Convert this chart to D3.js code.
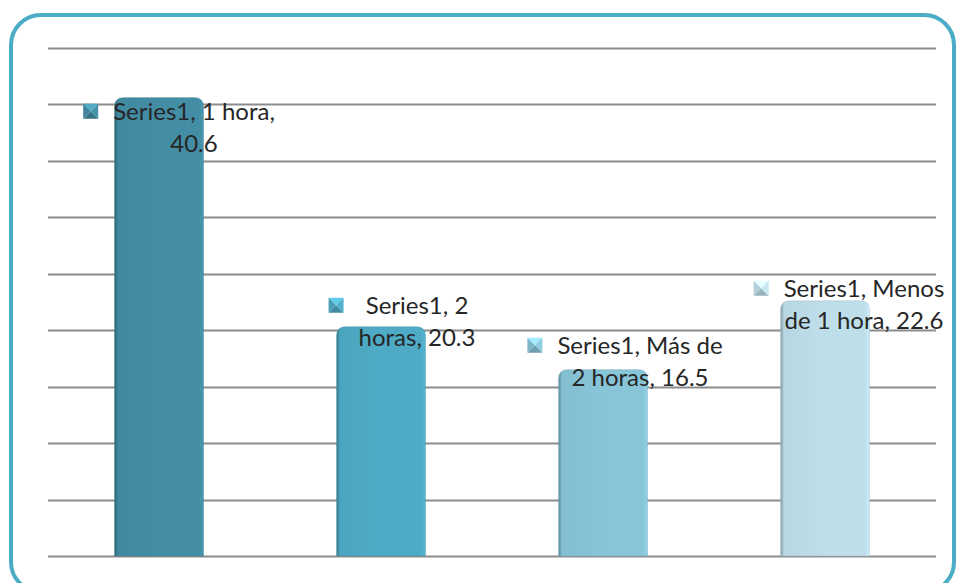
<!DOCTYPE html>
<html>
<head>
<meta charset="utf-8">
<script src="https://cdn.jsdelivr.net/npm/d3@7"></script>
<style>
  html, body { margin: 0; padding: 0; background: #fff; }
  svg { display: block; }
  .lbl { font-family: Lato, "Open Sans", sans-serif; font-size: 24px; fill: #262626; }
</style>
</head>
<body>
<svg id="chart" width="960" height="583"></svg>
<script>
// datos
const categorias = ["1 hora", "2 horas", "Más de 2 horas", "Menos de 1 hora"];
const valores = [40.6, 20.3, 16.5, 22.6];
const serie = "Series1";
const ticksY = [0, 5, 10, 15, 20, 25, 30, 35, 40, 45];
// texto de las etiquetas en dos lineas (como en el original)
const lineasEtiqueta = [
  ["Series1, 1 hora,", "40.6"],
  ["Series1, 2", "horas, 20.3"],
  ["Series1, Más de", "2 horas, 16.5"],
  ["Series1, Menos", "de 1 hora, 22.6"]
];

// estilo / layout
const colores = ["#438ea5", "#4fabc5", "#88c5d9", "#bedfea"];
const offEtiqueta = [[35, 14], [36, -21], [37, -24], [39, -12]]; // dx, dy de la 1a linea respecto al tope de la barra

const svg = d3.select("#chart");
const margin = {top: 48, right: 24, bottom: 27, left: 48};
const W = 960, H = 583;

// marco redondeado (la parte de abajo queda cortada)
svg.append("rect")
  .attr("x", 11).attr("y", 15)
  .attr("width", 943).attr("height", 577)
  .attr("rx", 30).attr("ry", 30)
  .attr("fill", "none")
  .attr("stroke", "#4bacc6")
  .attr("stroke-width", 4);

const x = d3.scaleBand()
  .domain(categorias)
  .range([margin.left, W - margin.right])
  .paddingInner(0.6)
  .paddingOuter(0.3);

const y = d3.scaleLinear()
  .domain([0, 45])
  .range([H - margin.bottom, margin.top]);

// lineas de division
svg.append("g")
  .selectAll("line")
  .data(ticksY)
  .join("line")
    .attr("x1", margin.left)
    .attr("x2", W - margin.right)
    .attr("y1", d => Math.round(y(d)) + 0.5)
    .attr("y2", d => Math.round(y(d)) + 0.5)
    .attr("stroke", "#8c8c8c")
    .attr("stroke-width", 2);

// gradientes para las barras
const defs = svg.append("defs");
colores.forEach((c, i) => {
  const g = defs.append("linearGradient")
    .attr("id", "grad" + i)
    .attr("x1", "0%").attr("x2", "100%").attr("y1", "0%").attr("y2", "0%");
  const base = d3.color(c);
  g.append("stop").attr("offset", "0%").attr("stop-color", base.darker(1));
  g.append("stop").attr("offset", "4%").attr("stop-color", base.darker(0.1));
  g.append("stop").attr("offset", "50%").attr("stop-color", base);
  g.append("stop").attr("offset", "95%").attr("stop-color", base);
  g.append("stop").attr("offset", "100%").attr("stop-color", base.brighter(0.2));
});

// barras con esquinas superiores redondeadas
function barra(x0, y0, w, h, r) {
  return `M${x0},${y0 + h} V${y0 + r} Q${x0},${y0} ${x0 + r},${y0} H${x0 + w - r} Q${x0 + w},${y0} ${x0 + w},${y0 + r} V${y0 + h} Z`;
}

svg.append("g")
  .selectAll("path")
  .data(valores)
  .join("path")
    .attr("d", (d, i) => barra(x(categorias[i]), y(d), x.bandwidth(), y(0) - y(d), 9))
    .attr("fill", (d, i) => `url(#grad${i})`)
    .attr("stroke", (d, i) => d3.color(colores[i]).darker(0.4))
    .attr("stroke-opacity", 0.5)
    .attr("stroke-width", 1);

// etiquetas de datos
const etiquetas = svg.append("g");
valores.forEach((v, i) => {
  const cx = x(categorias[i]) + x.bandwidth() / 2 + offEtiqueta[i][0];
  const cy = y(v) + offEtiqueta[i][1];
  const t = etiquetas.append("text")
    .attr("class", "lbl")
    .attr("text-anchor", "middle");
  let ancho = 0;
  lineasEtiqueta[i].forEach((ln, k) => {
    const ts = t.append("tspan")
      .attr("x", cx)
      .attr("y", cy + k * 32)
      .attr("dy", "0.35em")
      .text(ln);
    ancho = Math.max(ancho, ts.node().getComputedTextLength());
  });
  // marcador tipo piramide
  const s = 15;
  const mx = cx - ancho / 2 - 15 - s, my = cy - 8;
  const c = d3.color(colores[i]);
  const m = etiquetas.append("g").attr("transform", `translate(${mx},${my})`);
  m.append("path").attr("d", `M0,0 L${s},0 L${s/2},${s/2} Z`).attr("fill", c.brighter(0.5));
  m.append("path").attr("d", `M0,${s} L${s},${s} L${s/2},${s/2} Z`).attr("fill", c.darker(0.6));
  m.append("path").attr("d", `M0,0 L0,${s} L${s/2},${s/2} Z`).attr("fill", c.darker(0.2));
  m.append("path").attr("d", `M${s},0 L${s},${s} L${s/2},${s/2} Z`).attr("fill", c.brighter(0.1));
});
</script>
</body>
</html>
